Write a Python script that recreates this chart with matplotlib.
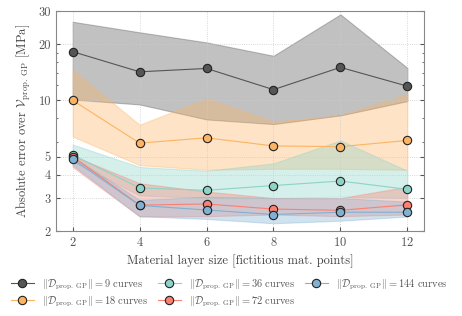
import numpy as np
import matplotlib
matplotlib.use("Agg")
from matplotlib import pyplot as plt
from matplotlib.ticker import FixedLocator, NullFormatter, LogLocator

plt.rcParams["font.family"] = "serif"
plt.rcParams["font.serif"] = ["cmr10", "DejaVu Serif"]
plt.rcParams["mathtext.fontset"] = "cm"
plt.rcParams["axes.formatter.use_mathtext"] = True

layer_sizes = [2, 4, 6, 8, 10, 12]
n_curves = [9, 18, 36, 72, 144]
colors = ["#555555", "#fdb462", "#8dd3c7", "#fb8072", "#80b1d3"]

mean_err = [
    [18.2, 14.2, 14.8, 11.4, 15.0, 11.9],
    [10.0, 5.9, 6.3, 5.7, 5.65, 6.1],
    [5.1, 3.4, 3.3, 3.5, 3.7, 3.34],
    [5.0, 2.75, 2.79, 2.62, 2.58, 2.76],
    [4.85, 2.74, 2.59, 2.45, 2.52, 2.52],
]
upper_err = [
    [26.3, 23.1, 20.4, 17.3, 28.8, 14.9],
    [14.5, 7.4, 10.2, 7.7, 8.3, 10.8],
    [5.8, 4.4, 4.2, 4.6, 6.1, 4.2],
    [5.05, 3.6, 3.25, 3.0, 3.0, 3.45],
    [5.0, 2.93, 3.05, 3.0, 3.0, 2.87],
]
lower_err = [
    [10.1, 9.5, 7.9, 7.46, 8.3, 9.9],
    [6.4, 4.5, 4.25, 4.3, 4.3, 4.25],
    [4.7, 3.1, 3.0, 3.0, 3.05, 3.0],
    [4.4, 2.39, 2.4, 2.45, 2.4, 2.45],
    [4.5, 2.4, 2.32, 2.2, 2.27, 2.39],
]

fig = plt.figure(figsize=(4.62, 3.16), dpi=100)
ax = fig.add_axes([0.121, 0.269, 0.797, 0.696])

for n, c, m, up, lo in zip(n_curves, colors, mean_err, upper_err, lower_err):
    ax.fill_between(layer_sizes, lo, up, color=c, alpha=0.36, linewidth=0.8,
                    edgecolor=c, zorder=1)
    ax.plot(layer_sizes, m, color=c, linewidth=0.8, marker="o", markersize=6,
            markerfacecolor=c, markeredgecolor="#222222", markeredgewidth=0.8,
            zorder=3,
            label=r"$\|\mathcal{D}_{\mathrm{prop.\ GP}}\| = %d$ curves" % n)

ax.set_yscale("log")
ax.set_ylim(2, 30)
ax.set_xlim(1.5, 12.5)
ax.set_xticks(layer_sizes)
ax.yaxis.set_major_locator(FixedLocator([2, 3, 4, 5, 10, 20, 30]))
ax.set_yticklabels(["2", "3", "4", "5", "10", "20", "30"])
ax.yaxis.set_minor_locator(LogLocator(base=10, subs=np.arange(1, 10) * 0.2, numticks=20))
ax.yaxis.set_minor_formatter(NullFormatter())

ax.grid(True, which="major", color="#cccccc", linestyle=":", linewidth=0.6)
ax.tick_params(which="both", direction="in", colors="#555555", labelsize=9,
               right=True, top=False, length=3)
ax.tick_params(which="minor", length=1.5)
for s in ax.spines.values():
    s.set_color("#888888")

ax.set_xlabel("Material layer size [fictitious mat. points]", fontsize=9, color="#444444")
ax.set_ylabel(r"Absolute error over $\mathcal{V}_{\mathrm{prop.\ GP}}$ [MPa]",
              fontsize=9, color="#444444")

fig.legend(loc="lower left", bbox_to_anchor=(0.008, 0.0), ncol=3, frameon=False,
           fontsize=7.5, labelcolor="#555555", handlelength=2.2, columnspacing=0.9,
           borderaxespad=0.3, handletextpad=0.8, labelspacing=0.25)

fig.savefig("out.png", dpi=100)
